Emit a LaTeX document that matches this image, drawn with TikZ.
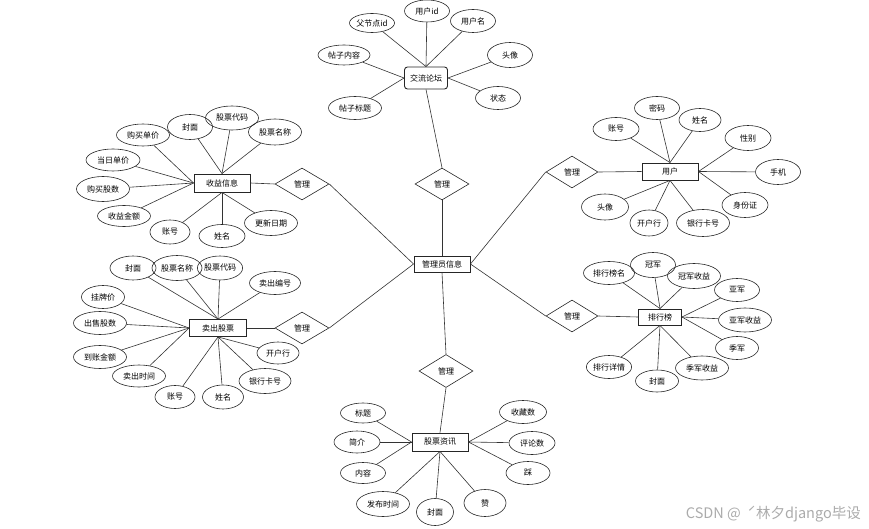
\documentclass[tikz,border=0pt]{standalone}
\usepackage{fontspec}
\setmainfont{Noto Sans CJK SC}
\usetikzlibrary{shapes.geometric}
\begin{document}
\begin{tikzpicture}[x=1pt,y=-1pt,
  every node/.style={font=\fontsize{8}{9}\selectfont, inner sep=0pt},
  attr/.style={draw=black!85, line width=0.6pt, ellipse, minimum width=45pt, minimum height=23pt},
  attrw/.style={attr, minimum width=53pt},
  ent/.style={draw=black!85, line width=0.9pt, rectangle, minimum width=56pt, minimum height=17pt},
  rel/.style={draw=black!85, line width=0.6pt, diamond, minimum width=54pt, minimum height=32pt},
  link/.style={draw=black!80, line width=0.6pt}]
\useasboundingbox (0,0) rectangle (869,529);
% ---------------- center ----------------
\node[ent, minimum height=16pt] (admin) at (442,264) {管理员信息};
\node[rel] (d1) at (442,184) {管理};
\node[rel] (d2) at (302,184) {管理};
\node[rel] (d3) at (302,328) {管理};
\node[rel, minimum width=52pt] (d4) at (572,172) {管理};
\node[rel, minimum width=52pt] (d5) at (572,316) {管理};
\node[rel, minimum height=33pt] (d6) at (446,371) {管理};
% ---------------- forum ----------------
\node[ent, minimum width=43pt, minimum height=22pt, rounded corners=3pt] (forum) at (426,78) {交流论坛};
\node[attr, minimum height=19pt] (f1) at (372,23) {父节点id};
\node[attr, minimum height=22pt] (f2) at (427,11) {用户id};
\node[attr] (f3) at (473,21) {用户名};
\node[attr, minimum width=52pt, minimum height=20pt] (f4) at (344,55) {帖子内容};
\node[attr, minimum height=25pt] (f5) at (510,55) {头像};
\node[attrw] (f6) at (355,108) {帖子标题};
\node[attr] (f7) at (498,98) {状态};
\foreach \a in {f1,f2,f3} \draw[link] (\a) -- (forum.north);
\foreach \a in {f4,f6} \draw[link] (\a) -- (forum.west);
\foreach \a in {f5,f7} \draw[link] (\a) -- (forum.east);
% ---------------- income ----------------
\node[ent, minimum height=18pt] (income) at (222,183) {收益信息};
\node[attrw, minimum height=22pt] (i1) at (143,135) {购买单价};
\node[attr, minimum height=25pt] (i2) at (190,127) {封面};
\node[attrw, minimum height=24pt] (i3) at (232,118) {股票代码};
\node[attrw, minimum height=26pt] (i4) at (275,132) {股票名称};
\node[attrw, minimum width=54pt, minimum height=22pt] (i5) at (113,160) {当日单价};
\node[attrw, minimum height=25pt] (i6) at (103,189) {购买股数};
\node[attrw, minimum height=21pt] (i7) at (124,216) {收益金额};
\node[attr, minimum width=40pt, minimum height=24pt] (i8) at (170,232) {账号};
\node[attr, minimum width=46pt] (i9) at (222,236) {姓名};
\node[attrw, minimum height=25pt] (i10) at (271,223) {更新日期};
\foreach \a in {i2,i3,i4} \draw[link] (\a) -- (income.north);
\foreach \a in {i1,i5,i6,i7} \draw[link] (\a) -- (income.west);
\foreach \a in {i8,i9,i10} \draw[link] (\a) -- (income.south);
% ---------------- sell ----------------
\node[ent, minimum width=57pt] (sell) at (218,328) {卖出股票};
\node[attr, minimum width=46pt, minimum height=24pt] (s1) at (133,268) {封面};
\node[attr, minimum width=50pt, minimum height=25pt] (s2) at (177,268) {股票名称};
\node[attr, minimum width=44pt, minimum height=24pt] (s3) at (220,268) {股票代码};
\node[attr, minimum width=51pt] (s4) at (275,283) {卖出编号};
\node[attr, minimum width=43pt] (s5) at (103,297) {挂牌价};
\node[attrw] (s6) at (100,323) {出售股数};
\node[attrw] (s7) at (100,357) {到账金额};
\node[attrw, minimum height=22pt] (s8) at (139,376) {卖出时间};
\node[attr, minimum width=40pt] (s9) at (175,397) {账号};
\node[attr, minimum width=41pt, minimum height=24pt] (s10) at (223,397) {姓名};
\node[attr, minimum width=52pt, minimum height=25pt] (s11) at (265,381) {银行卡号};
\node[attr, minimum width=42pt, minimum height=22pt] (s12) at (278,353) {开户行};
\foreach \a in {s1,s2,s3,s4} \draw[link] (\a) -- (sell.north);
\foreach \a in {s5,s6,s7,s8} \draw[link] (\a) -- (sell.west);
\foreach \a in {s9,s10,s11,s12} \draw[link] (\a) -- (sell.south);
% ---------------- user ----------------
\node[ent] (user) at (670,171.5) {用户};
\node[attr, minimum width=46pt] (u1) at (616,129) {账号};
\node[attr] (u2) at (657,108) {密码};
\node[attr, minimum width=42pt] (u3) at (700,120) {姓名};
\node[attr, minimum width=46pt, minimum height=25pt] (u4) at (748,138) {性别};
\node[attr, minimum height=25pt] (u5) at (778,172) {手机};
\node[attr, minimum width=46pt, minimum height=25pt] (u6) at (745,205) {身份证};
\node[attr, minimum width=47pt, minimum height=26pt] (u7) at (605,207) {头像};
\node[attr, minimum width=38pt, minimum height=26pt] (u8) at (649,223) {开户行};
\node[attrw, minimum height=27pt] (u9) at (703,223) {银行卡号};
\foreach \a in {u1,u2,u3} \draw[link] (\a) -- (user.north);
\foreach \a in {u4,u5,u6} \draw[link] (\a) -- (user.east);
\foreach \a in {u7,u8,u9} \draw[link] (\a) -- (user.south);
% ---------------- rank ----------------
\node[ent, minimum width=43pt, minimum height=16pt] (rank) at (660,317) {排行榜};
\node[attr, minimum width=51pt] (r1) at (609,273) {排行榜名};
\node[attr, minimum height=25pt] (r2) at (653,265) {冠军};
\node[attrw, minimum height=25pt] (r3) at (694,276) {冠军收益};
\node[attr] (r4) at (737,290) {亚军};
\node[attrw, minimum height=24pt] (r5) at (745,320) {亚军收益};
\node[attr, minimum width=43pt] (r6) at (737,348) {季军};
\node[attrw, minimum height=24pt] (r7) at (702,368) {季军收益};
\node[attr, minimum width=43pt, minimum height=22pt] (r8) at (657,381) {封面};
\node[attr] (r9) at (609,367) {排行详情};
\foreach \a in {r1,r2,r3} \draw[link] (\a) -- (rank.north);
\foreach \a in {r4,r5,r6} \draw[link] (\a) -- (rank.east);
\foreach \a in {r7,r8,r9} \draw[link] (\a) -- (rank.south);
% ---------------- news ----------------
\node[ent, minimum height=18pt] (news) at (440,442) {股票资讯};
\node[attr, minimum height=20pt] (n1) at (363,413) {标题};
\node[attr, minimum width=46pt, minimum height=22pt] (n2) at (357,442) {简介};
\node[attr, minimum height=21pt] (n3) at (363,473) {内容};
\node[attrw, minimum height=25pt] (n4) at (383,504) {发布时间};
\node[attr, minimum width=37pt, minimum height=27pt] (n5) at (435,512) {封面};
\node[attr, minimum width=42pt, minimum height=27pt] (n6) at (485,503) {赞};
\node[attr, minimum width=44pt] (n7) at (528,473) {踩};
\node[attr, minimum width=47pt] (n8) at (523,412) {收藏数};
\node[attr, minimum width=46pt] (n9) at (532,443) {评论数};
\foreach \a in {n1,n2,n3} \draw[link] (\a) -- (news.west);
\foreach \a in {n4,n5,n6} \draw[link] (\a) -- (news.south);
\foreach \a in {n7,n8,n9} \draw[link] (\a) -- (news.east);
% ---------------- relationships ----------------
\draw[link] (forum.south) -- (d1.north);
\draw[link] (d1.south) -- (admin.north);
\draw[link] (admin.south) -- (d6.north);
\draw[link] (d6.south) -- (news.north);
\draw[link] (income.east) -- (d2.west);
\draw[link] (d2.east) -- (admin.west);
\draw[link] (sell.east) -- (d3.west);
\draw[link] (d3.east) -- (admin.west);
\draw[link] (user.west) -- (d4.east);
\draw[link] (d4.west) -- (admin.east);
\draw[link] (rank.west) -- (d5.east);
\draw[link] (d5.west) -- (admin.east);
% ---------------- watermark ----------------
\node[anchor=east, text=black!33, font=\fontsize{14.5}{15}\selectfont] (wm) at (861,514) {CSDN @ \ ˊ林夕django毕设};
\end{tikzpicture}
\end{document}
